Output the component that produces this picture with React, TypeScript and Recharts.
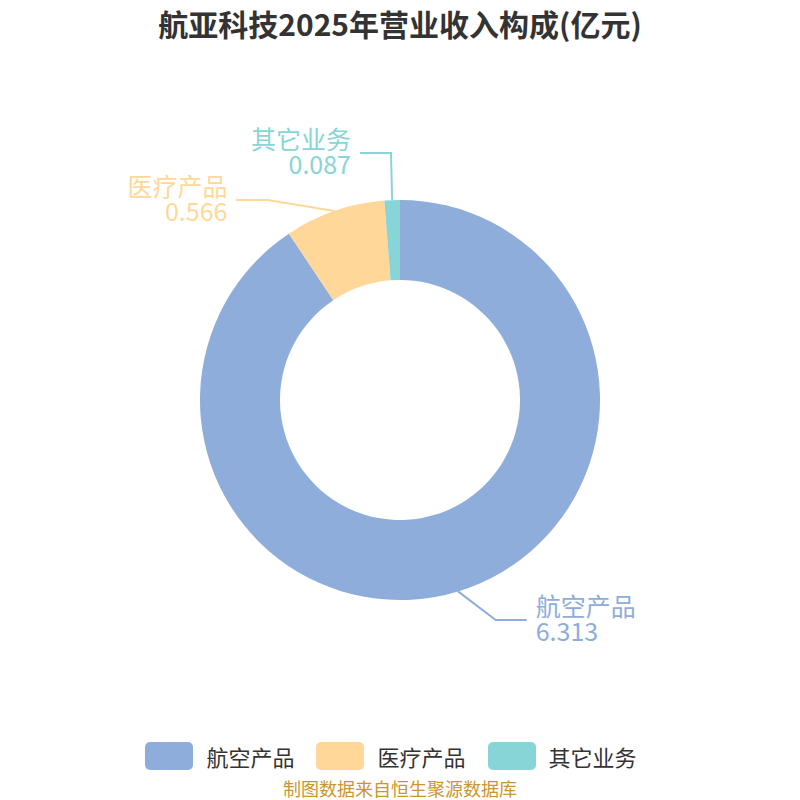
import React from "react";
import { PieChart, Pie, Cell, Legend } from "recharts";

const names = ["航空产品", "医疗产品", "其它业务"];
const values = [6.313, 0.566, 0.087];
const colors = ["#8EADDA", "#FFD899", "#88D5D7"];

const title = "航亚科技2025年营业收入构成(亿元)";
const source = "制图数据来自恒生聚源数据库";

const data = names.map((name, i) => ({ name, value: values[i] }));

const FONT = "'Noto Sans CJK SC', 'Noto Sans', sans-serif";
const RAD = Math.PI / 180;

// echarts-like outer labels: radial y, overlap pushed apart, x put back on a ring
function layoutLabels(cx: number, cy: number, r: number) {
  const total = values.reduce((a, b) => a + b, 0);
  const len = 30;
  const ring = r + 40;
  const gap = 47;
  let acc = 0;
  const items = values.map((v, i) => {
    const start = 90 - (360 * acc) / total;
    acc += v;
    const end = 90 - (360 * acc) / total;
    const mid = (start + end) / 2;
    const cos = Math.cos(mid * RAD);
    const sin = Math.sin(mid * RAD);
    return {
      i,
      cos,
      sx: cx + r * cos,
      sy: cy - r * sin,
      ey: cy - (r + len) * sin,
      ex: 0,
      right: cos >= 0,
    };
  });
  [true, false].forEach((side) => {
    const group = items.filter((d) => d.right === side).sort((a, b) => a.ey - b.ey);
    for (let iter = 0; iter < 20; iter++) {
      for (let k = 1; k < group.length; k++) {
        const need = group[k - 1].ey + gap - group[k].ey;
        if (need > 0) {
          group[k - 1].ey -= need / 2;
          group[k].ey += need / 2;
        }
      }
    }
  });
  items.forEach((d) => {
    const dy = d.ey - cy;
    const dir = d.right ? 1 : -1;
    d.ex =
      Math.abs(dy) < ring
        ? cx + dir * Math.sqrt(ring * ring - dy * dy)
        : cx + (r + len) * d.cos;
  });
  return items.sort((a, b) => a.i - b.i);
}

const renderLabel = (props: any) => {
  const { cx, cy, outerRadius, index } = props;
  const p = layoutLabels(cx, cy, outerRadius)[index];
  const dir = p.right ? 1 : -1;
  const hx = p.ex + dir * 31;
  const tx = hx + dir * 9;
  const color = colors[index];
  return (
    <g key={`lbl-${index}`}>
      <polyline
        points={`${p.sx},${p.sy} ${p.ex},${p.ey} ${hx},${p.ey}`}
        fill="none"
        stroke={color}
        strokeWidth={2}
      />
      <text
        x={tx}
        y={p.ey - 15}
        fill={color}
        fontSize={25}
        fontFamily={FONT}
        textAnchor={p.right ? "start" : "end"}
        dominantBaseline="central"
      >
        {names[index]}
      </text>
      <text
        x={tx}
        y={p.ey + 10}
        fill={color}
        fontSize={25}
        fontFamily={FONT}
        textAnchor={p.right ? "start" : "end"}
        dominantBaseline="central"
      >
        {values[index].toFixed(3)}
      </text>
    </g>
  );
};

const renderLegend = () => (
  <div
    style={{
      display: "flex",
      justifyContent: "center",
      alignItems: "center",
      gap: 22,
      paddingRight: 18,
      fontFamily: FONT,
      fontSize: 22,
      color: "#333",
    }}
  >
    {names.map((n, i) => (
      <div key={n} style={{ display: "flex", alignItems: "center", gap: 13 }}>
        <span
          style={{
            display: "inline-block",
            width: 48,
            height: 28,
            borderRadius: 5,
            background: colors[i],
          }}
        />
        <span>{n}</span>
      </div>
    ))}
  </div>
);

export default function App() {
  return (
    <div
      style={{
        position: "absolute",
        left: 0,
        top: 0,
        width: 800,
        height: 800,
        overflow: "hidden",
        background: "#fff",
        fontFamily: FONT,
      }}
    >
      <div
        style={{
          position: "absolute",
          top: 3,
          left: 0,
          width: 800,
          textAlign: "center",
          fontSize: 30,
          fontWeight: 700,
          color: "#333",
          lineHeight: "40px",
        }}
      >
        {title}
      </div>
      <PieChart width={800} height={800} margin={{ top: 0, right: 0, bottom: 0, left: 0 }}>
        <Pie
          data={data}
          dataKey="value"
          nameKey="name"
          cx={400}
          cy={400}
          innerRadius={120}
          outerRadius={200}
          startAngle={90}
          endAngle={-270}
          stroke="none"
          label={renderLabel}
          labelLine={false}
          isAnimationActive={false}
        >
          {data.map((d, i) => (
            <Cell key={d.name} fill={colors[i]} />
          ))}
        </Pie>
        <Legend
          content={renderLegend}
          wrapperStyle={{ position: "absolute", top: 740, left: 0, width: 800, height: 30 }}
        />
      </PieChart>
      <div
        style={{
          position: "absolute",
          top: 778,
          left: 0,
          width: 800,
          textAlign: "center",
          fontSize: 18,
          color: "#C9962F",
          lineHeight: "20px",
        }}
      >
        {source}
      </div>
    </div>
  );
}
